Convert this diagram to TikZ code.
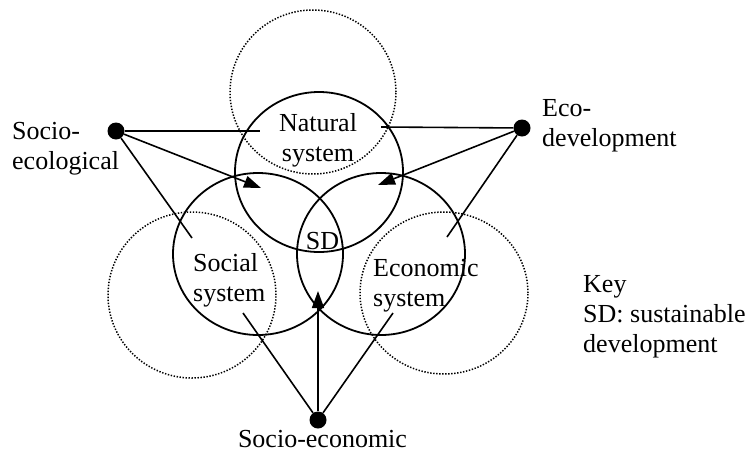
\documentclass[tikz,border=0pt]{standalone}
\usepackage{fontspec}
\setmainfont{Liberation Serif}
\usetikzlibrary{arrows.meta}
\begin{document}
\begin{tikzpicture}[x=1pt,y=-1pt,
  txt/.style={inner sep=0pt, font=\fontsize{26}{30}\selectfont},
  sysring/.style={line width=1.8pt},
  dotring/.style={line width=1.5pt, dash pattern=on 1.4pt off 1.6pt},
  link/.style={line width=1.6pt},
  arr/.style={line width=1.6pt, -{Triangle[length=17pt,width=12pt]}},
  hub/.style={circle, fill=black, minimum size=17pt, inner sep=0pt}]
\useasboundingbox (0,0) rectangle (751,453);
% dotted circles
\draw[dotring] (313,92) ellipse [x radius=83pt, y radius=82pt];
\draw[dotring] (192,295) ellipse [x radius=84pt, y radius=83pt];
\draw[dotring] (444,293) ellipse [x radius=84pt, y radius=81pt];
% system circles
\draw[sysring] (319,172) ellipse [x radius=84pt, y radius=80pt];
\draw[sysring] (258,254) ellipse [x radius=85pt, y radius=81pt];
\draw[sysring] (381,254) ellipse [x radius=84pt, y radius=81pt];
% texts
\node[txt, anchor=north, align=center] (nat) at (318,113.5) {Natural\\system};
\node[txt, anchor=north west, align=left] (soc) at (193,253.5) {Social\\system};
\node[txt, anchor=north west, align=left] (eco) at (373,259.5) {Economic\\system};
\node[txt, anchor=base] (sd) at (322.5,249) {SD};
\node[txt, anchor=north west, align=left] (seclab) at (12,122.5) {Socio-\\ecological};
\node[txt, anchor=north west, align=left] (edlab) at (542,99.5) {Eco-\\development};
\node[txt, anchor=base] (snlab) at (322.5,447) {Socio-economic};
\node[txt, anchor=north west, align=left] (key) at (583,275.5) {Key\\SD: sustainable\\development};
% hubs
\node[hub] (se) at (116,131) {};
\node[hub] (ed) at (522,128) {};
\node[hub] (sn) at (318,420) {};
% free ends
\coordinate (seA) at (260,131);
\coordinate (seB) at (261,188);
\coordinate (seC) at (192,238);
\coordinate (edA) at (381,127);
\coordinate (edB) at (378,185);
\coordinate (edC) at (447,237);
\coordinate (snA) at (243,313);
\coordinate (snB) at (318,291);
\coordinate (snC) at (393,313);
% connectors
\draw[link] (se) -- (seA);
\draw[arr] (se) -- (seB);
\draw[link] (se) -- (seC);
\draw[link] (ed) -- (edA);
\draw[arr] (ed) -- (edB);
\draw[link] (ed) -- (edC);
\draw[link] (sn) -- (snA);
\draw[arr] (sn) -- (snB);
\draw[link] (sn) -- (snC);
\end{tikzpicture}
\end{document}
